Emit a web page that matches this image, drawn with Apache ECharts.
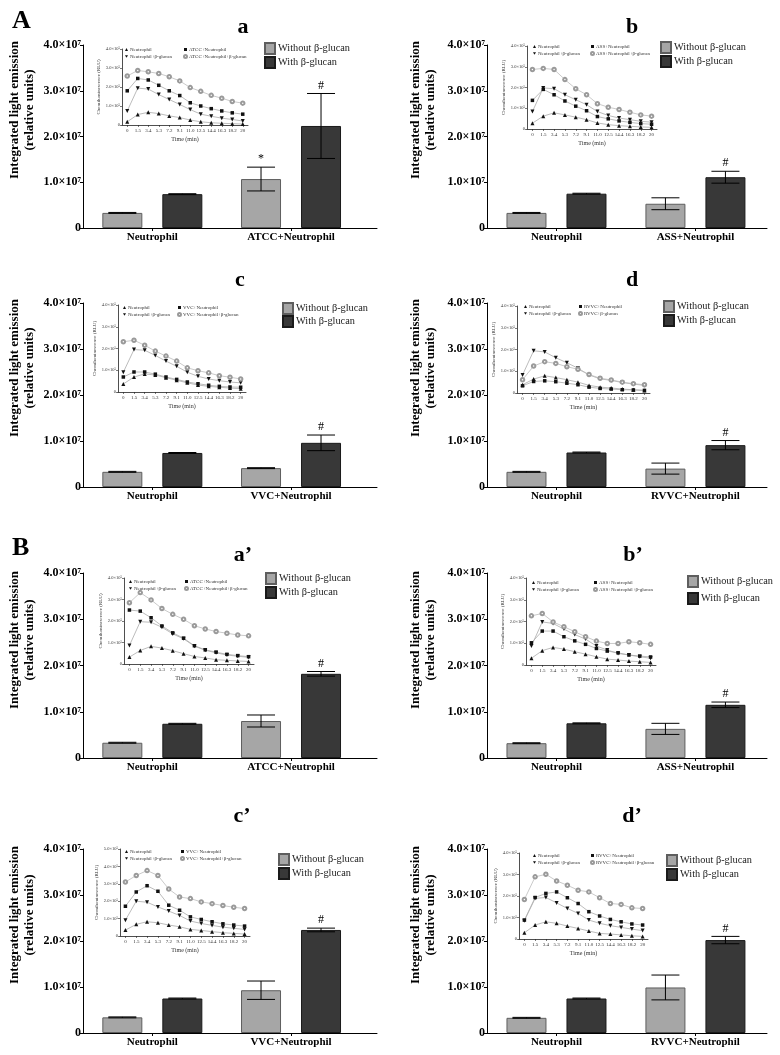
<!DOCTYPE html>
<html><head><meta charset="utf-8">
<script src="https://cdn.jsdelivr.net/npm/echarts@6/dist/echarts.min.js"></script>
<style>html,body{margin:0;padding:0;background:#fff}#c{width:780px;height:1055px}</style>
</head><body><div id="c"></div>
<script>
// ===================== DATA =====================
const panelTitles = ['a', 'b', 'c', 'd', 'a\u2019', 'b\u2019', 'c\u2019', 'd\u2019'];
const strains = ['ATCC', 'ASS', 'VVC', 'RVVC', 'ATCC', 'ASS', 'VVC', 'RVVC'];
const barLegend = ['Without \u03b2-glucan', 'With \u03b2-glucan'];
const timeLabels = ['0', '1.5', '3.4', '5.3', '7.2', '9.1', '11.0', '12.5', '14.4', '16.3', '18.2', '20'];

// Integrated light emission (units of 10^7), [Neutrophil, strain+Neutrophil]
const withoutGlucan = [[0.33, 1.07], [0.33, 0.53], [0.33, 0.41], [0.33, 0.40], [0.33, 0.80], [0.32, 0.63], [0.34, 0.93], [0.33, 0.99]];
const withoutErr    = [[0.01, 0.26], [0.01, 0.13], [0.01, 0.01], [0.01, 0.12], [0.01, 0.13], [0.01, 0.12], [0.01, 0.20], [0.01, 0.27]];
const withGlucan    = [[0.74, 2.23], [0.75, 1.11], [0.74, 0.96], [0.75, 0.91], [0.74, 1.82], [0.75, 1.15], [0.75, 2.24], [0.75, 2.02]];
const withErr       = [[0.01, 0.71], [0.01, 0.13], [0.01, 0.17], [0.01, 0.10], [0.01, 0.05], [0.01, 0.06], [0.01, 0.04], [0.01, 0.08]];
const withoutMarks  = [['', '*'], ['', ''], ['', ''], ['', ''], ['', ''], ['', ''], ['', ''], ['', '']];
const withMarks     = [['', '#'], ['', '#'], ['', '#'], ['', '#'], ['', '#'], ['', '#'], ['', '#'], ['', '#']];

// Inset chemiluminescence kinetics (units of 10^5)
const insetMax = [4, 4, 4, 4, 4, 4, 5, 4];
const curveNeutrophil = [
  [0.17, 0.55, 0.67, 0.60, 0.48, 0.39, 0.26, 0.17, 0.12, 0.09, 0.07, 0.05],
  [0.28, 0.62, 0.78, 0.68, 0.57, 0.45, 0.29, 0.21, 0.16, 0.13, 0.10, 0.08],
  [0.37, 0.69, 0.83, 0.78, 0.66, 0.54, 0.42, 0.32, 0.26, 0.22, 0.18, 0.15],
  [0.38, 0.64, 0.79, 0.71, 0.61, 0.50, 0.35, 0.27, 0.23, 0.18, 0.15, 0.12],
  [0.32, 0.63, 0.82, 0.74, 0.62, 0.48, 0.35, 0.28, 0.20, 0.17, 0.14, 0.12],
  [0.31, 0.66, 0.81, 0.73, 0.61, 0.50, 0.38, 0.27, 0.23, 0.18, 0.15, 0.12],
  [0.34, 0.67, 0.82, 0.76, 0.63, 0.53, 0.38, 0.32, 0.25, 0.19, 0.15, 0.11],
  [0.29, 0.65, 0.80, 0.73, 0.60, 0.49, 0.37, 0.26, 0.23, 0.19, 0.15, 0.12]
];
const curveNeutrophilGlucan = [
  [0.74, 1.94, 1.89, 1.60, 1.34, 1.08, 0.81, 0.57, 0.46, 0.36, 0.29, 0.21],
  [0.84, 1.98, 1.94, 1.65, 1.41, 1.17, 0.84, 0.65, 0.53, 0.45, 0.37, 0.33],
  [0.91, 1.95, 1.92, 1.68, 1.42, 1.18, 0.91, 0.72, 0.60, 0.52, 0.46, 0.42],
  [0.83, 1.94, 1.89, 1.62, 1.39, 1.14, 0.83, 0.65, 0.58, 0.48, 0.41, 0.35],
  [0.86, 1.97, 1.94, 1.71, 1.40, 1.17, 0.83, 0.64, 0.52, 0.42, 0.36, 0.31],
  [0.87, 1.98, 1.91, 1.65, 1.40, 1.19, 0.87, 0.69, 0.53, 0.46, 0.38, 0.31],
  [0.91, 2.00, 1.94, 1.67, 1.43, 1.18, 0.86, 0.72, 0.61, 0.51, 0.44, 0.38],
  [0.85, 1.89, 1.93, 1.68, 1.42, 1.19, 0.88, 0.73, 0.62, 0.54, 0.46, 0.39]
];
const curveStrain = [
  [1.80, 2.45, 2.37, 2.09, 1.80, 1.55, 1.17, 1.00, 0.86, 0.74, 0.64, 0.57],
  [1.38, 1.91, 1.65, 1.35, 1.10, 0.88, 0.60, 0.49, 0.39, 0.32, 0.26, 0.23],
  [0.69, 0.92, 0.92, 0.82, 0.69, 0.58, 0.46, 0.38, 0.31, 0.26, 0.23, 0.22],
  [0.33, 0.53, 0.56, 0.52, 0.45, 0.38, 0.27, 0.21, 0.18, 0.15, 0.14, 0.12],
  [2.51, 2.46, 2.15, 1.77, 1.45, 1.20, 0.85, 0.66, 0.55, 0.45, 0.39, 0.34],
  [1.02, 1.56, 1.56, 1.30, 1.11, 0.95, 0.76, 0.64, 0.56, 0.46, 0.41, 0.37],
  [1.71, 2.53, 2.89, 2.57, 1.77, 1.48, 1.10, 0.95, 0.82, 0.70, 0.63, 0.57],
  [0.88, 1.93, 2.12, 2.19, 1.92, 1.65, 1.27, 1.07, 0.91, 0.80, 0.70, 0.65]
];
const curveStrainGlucan = [
  [2.58, 2.87, 2.80, 2.71, 2.54, 2.32, 1.97, 1.77, 1.56, 1.41, 1.24, 1.15],
  [2.87, 2.92, 2.87, 2.38, 1.94, 1.65, 1.22, 1.05, 0.94, 0.81, 0.68, 0.62],
  [2.31, 2.38, 2.15, 1.88, 1.65, 1.42, 1.11, 0.98, 0.88, 0.75, 0.68, 0.60],
  [0.61, 1.24, 1.44, 1.36, 1.21, 1.09, 0.85, 0.68, 0.60, 0.50, 0.43, 0.38],
  [2.85, 3.32, 2.98, 2.58, 2.31, 2.08, 1.78, 1.63, 1.51, 1.43, 1.35, 1.31],
  [2.26, 2.37, 1.98, 1.76, 1.53, 1.30, 1.10, 0.99, 0.99, 1.07, 1.02, 0.95],
  [3.10, 3.48, 3.76, 3.48, 2.70, 2.24, 2.15, 1.96, 1.86, 1.75, 1.65, 1.58],
  [1.84, 2.89, 3.01, 2.70, 2.50, 2.27, 2.19, 1.92, 1.65, 1.61, 1.45, 1.42]
];
const strainGlucanNames = ['ATCC+Neutrophil+\u03b2-glucan', 'ASS+Neutrophil+\u03b2-glucan', 'VVC+Neutrophil+\u03b2-glucan', 'RVVC+\u03b2-glucan',
  'ATCC+Neutrophil+\u03b2-glucan', 'ASS+Neutrophil+\u03b2-glucan', 'VVC+Neutrophil+\u03b2-glucan', 'RVVC+Neutrophil+\u03b2-glucan'];

// ===================== LAYOUT =====================
const SERIF = '"Liberation Serif", "Times New Roman", serif';
const mainGrids = [
  {left: 83, top: 45, width: 294, height: 183}, {left: 487, top: 45, width: 280, height: 183},
  {left: 83, top: 303, width: 294, height: 184}, {left: 487, top: 303, width: 280, height: 184},
  {left: 83, top: 573, width: 294, height: 185}, {left: 487, top: 573, width: 280, height: 185},
  {left: 83, top: 849, width: 294, height: 184}, {left: 487, top: 849, width: 280, height: 184}
];
const insetGrids = [
  {left: 122, top: 49, width: 126, height: 76}, {left: 527, top: 46, width: 130, height: 83},
  {left: 118, top: 305, width: 128, height: 87}, {left: 517, top: 306, width: 133, height: 87},
  {left: 124, top: 578, width: 130, height: 86}, {left: 526, top: 578, width: 130, height: 87},
  {left: 120, top: 849, width: 130, height: 87}, {left: 519, top: 853, width: 129, height: 86}
];
const mainLegendPos = [[264, 42, 1], [660, 41, 1], [282, 302, 0], [663, 300, 1], [265, 572, 1], [687, 575, 4], [278, 853, 1], [666, 854, 1]];
const insetLegendPos = [[125, 47, 183], [533, 44, 590], [123, 305, 177], [524, 304, 578], [129, 579, 184], [532, 580, 593], [125, 849, 180], [533, 853, 590]];
const titlePos = [[238, 11], [627, 11], [235, 264], [627, 264], [238, 539], [628, 539], [237, 800], [627, 800]];
const yTitleCenters = [[22, 110], [423, 110], [22, 368], [423, 368], [22, 640], [423, 640], [22, 915], [423, 915]];
const BAR_OFFSET = 30; // half of (barWidth + gap) for barWidth 40, barGap 50%
const GRAY = '#a6a6a6', DARK = '#383838';
const downTri = 'path://M0,0L10,0L5,9Z';

const option = {
  animation: false, backgroundColor: '#fff',
  title: [], grid: [], xAxis: [], yAxis: [], legend: [], series: [], graphic: []
};

option.title.push({text: 'A', left: 7, top: 3, textStyle: {fontFamily: SERIF, fontWeight: 'bold', fontSize: 26, color: '#000'}});
option.title.push({text: 'B', left: 7, top: 530, textStyle: {fontFamily: SERIF, fontWeight: 'bold', fontSize: 26, color: '#000'}});

function errRender(p, g) {
  const errs = g === 0 ? withoutErr[p] : withErr[p];
  const marks = g === 0 ? withoutMarks[p] : withMarks[p];
  return function (params, api) {
    const i = params.dataIndex;
    const xv = api.value(0), v = api.value(1), e = errs[i];
    const x = api.coord([xv, v])[0] + (g === 0 ? -BAR_OFFSET : BAR_OFFSET);
    const yTop = api.coord([xv, v + e])[1];
    const yBot = api.coord([xv, v - e])[1];
    const hw = 14;
    const st = {stroke: '#000', lineWidth: 1};
    const children = [
      {type: 'line', shape: {x1: x, y1: yTop, x2: x, y2: yBot}, style: st},
      {type: 'line', shape: {x1: x - hw, y1: yTop, x2: x + hw, y2: yTop}, style: st},
      {type: 'line', shape: {x1: x - hw, y1: yBot, x2: x + hw, y2: yBot}, style: st}
    ];
    if (marks[i]) {
      children.push({type: 'text', x: x, y: yTop - 2, style: {text: marks[i], align: 'center', verticalAlign: 'bottom', font: '12px ' + SERIF, fill: '#000'}});
    }
    return {type: 'group', children: children};
  };
}

for (let p = 0; p < 8; p++) {
  const col = p % 2;
  const cats = ['Neutrophil', strains[p] + '+Neutrophil'];
  const mg = mainGrids[p], ig = insetGrids[p];
  const xMax = col === 0 ? 2.12 : 2.015;
  const mx = 2 * p, ix = 2 * p + 1;

  option.title.push({text: panelTitles[p], left: titlePos[p][0], top: titlePos[p][1], textAlign: 'center',
    textStyle: {fontFamily: SERIF, fontWeight: 'bold', fontSize: 22, color: '#000'}});

  option.grid.push(Object.assign({containLabel: false}, mg));
  option.grid.push(Object.assign({containLabel: false}, ig));

  option.xAxis.push({
    gridIndex: mx, type: 'value', min: 0, max: xMax, interval: 0.5,
    axisLine: {show: true, lineStyle: {color: '#000', width: 1}},
    axisTick: {show: true, length: 3, customValues: [0.5, 1.5], lineStyle: {color: '#000'}},
    axisLabel: {show: true, customValues: [0.5, 1.5], margin: 4,
      formatter: v => (Math.abs(v - 0.5) < 1e-6 ? cats[0] : Math.abs(v - 1.5) < 1e-6 ? cats[1] : ''),
      fontFamily: SERIF, fontWeight: 'bold', fontSize: 11, color: '#000'},
    splitLine: {show: false}
  });
  option.xAxis.push({
    gridIndex: ix, type: 'category', data: timeLabels, boundaryGap: true,
    axisLine: {show: true, lineStyle: {color: '#222', width: 0.8}},
    axisTick: {show: true, alignWithLabel: true, length: 2, lineStyle: {color: '#222', width: 0.6}},
    axisLabel: {interval: 0, margin: 3, fontFamily: SERIF, fontSize: 5, color: '#333'},
    name: 'Time (min)', nameLocation: 'middle', nameGap: 11,
    nameTextStyle: {fontFamily: SERIF, fontSize: 6, color: '#333'},
    splitLine: {show: false}
  });
  option.yAxis.push({
    gridIndex: mx, type: 'value', min: 0, max: 4, interval: 1,
    axisLine: {show: true, lineStyle: {color: '#000', width: 1}},
    axisTick: {show: true, length: 3, lineStyle: {color: '#000'}},
    axisLabel: {margin: 2, formatter: v => (v === 0 ? '0' : v.toFixed(1) + '\u00d710\u2077'),
      fontFamily: SERIF, fontWeight: 'bold', fontSize: 12, color: '#000'},
    splitLine: {show: false}
  });
  option.yAxis.push({
    gridIndex: ix, type: 'value', min: 0, max: insetMax[p], interval: 1,
    axisLine: {show: true, lineStyle: {color: '#222', width: 0.8}},
    axisTick: {show: true, length: 2, lineStyle: {color: '#222', width: 0.6}},
    axisLabel: {margin: 2, formatter: v => (v === 0 ? '0' : v.toFixed(1) + '\u00d710\u2075'),
      fontFamily: SERIF, fontSize: 4.5, color: '#333'},
    name: 'Chemiluminescence (RLU)', nameLocation: 'middle', nameGap: 21,
    nameTextStyle: {fontFamily: SERIF, fontSize: 5, color: '#333'},
    splitLine: {show: false}
  });

  option.series.push({
    type: 'bar', name: barLegend[0], xAxisIndex: mx, yAxisIndex: mx, barWidth: 40, barGap: '50%',
    itemStyle: {color: GRAY, borderColor: '#5e5e5e', borderWidth: 1},
    data: withoutGlucan[p].map((v, i) => [i + 0.5, v]), silent: true
  });
  option.series.push({
    type: 'bar', name: barLegend[1], xAxisIndex: mx, yAxisIndex: mx, barWidth: 40, barGap: '50%',
    itemStyle: {color: DARK, borderColor: '#1a1a1a', borderWidth: 1},
    data: withGlucan[p].map((v, i) => [i + 0.5, v]), silent: true
  });
  option.series.push({
    type: 'custom', xAxisIndex: mx, yAxisIndex: mx, renderItem: errRender(p, 0), z: 5, silent: true,
    encode: {x: 0, y: 1}, data: withoutGlucan[p].map((v, i) => [i + 0.5, v])
  });
  option.series.push({
    type: 'custom', xAxisIndex: mx, yAxisIndex: mx, renderItem: errRender(p, 1), z: 5, silent: true,
    encode: {x: 0, y: 1}, data: withGlucan[p].map((v, i) => [i + 0.5, v])
  });

  const lineBase = {type: 'line', xAxisIndex: ix, yAxisIndex: ix, silent: true, z: 6,
    lineStyle: {color: '#ababab', width: 0.8}};
  option.series.push(Object.assign({}, lineBase, {name: 'Neutrophil', data: curveNeutrophil[p],
    symbol: 'triangle', symbolSize: 4, itemStyle: {color: '#111'}}));
  option.series.push(Object.assign({}, lineBase, {name: 'Neutrophil+\u03b2-glucan', data: curveNeutrophilGlucan[p],
    symbol: 'triangle', symbolRotate: 180, symbolSize: 4, itemStyle: {color: '#111'}}));
  option.series.push(Object.assign({}, lineBase, {name: strains[p] + '+Neutrophil', data: curveStrain[p],
    symbol: 'rect', symbolSize: 3.5, itemStyle: {color: '#111'}}));
  option.series.push(Object.assign({}, lineBase, {name: strainGlucanNames[p], data: curveStrainGlucan[p],
    symbol: 'emptyCircle', symbolSize: 3.5, itemStyle: {color: '#9a9a9a', borderWidth: 0.8},
    lineStyle: {color: '#bdbdbd', width: 0.8}}));

  option.legend.push({
    orient: 'vertical', left: mainLegendPos[p][0], top: mainLegendPos[p][1], padding: 0,
    itemWidth: 10, itemHeight: 11, itemGap: mainLegendPos[p][2], selectedMode: false,
    textStyle: {fontFamily: SERIF, fontSize: 10.3, color: '#222', padding: [0, 0, 0, -2]},
    data: [{name: barLegend[0], icon: 'rect'}, {name: barLegend[1], icon: 'rect'}]
  });
  const il = insetLegendPos[p];
  const legText = {fontFamily: SERIF, fontSize: 5, lineHeight: 5, color: '#333', padding: [0, 0, 0, -3]};
  option.legend.push({
    orient: 'vertical', left: il[0], top: il[1], padding: 0, itemWidth: 3, itemHeight: 3, itemGap: 2,
    selectedMode: false, textStyle: legText,
    data: [{name: 'Neutrophil', icon: 'triangle'}, {name: 'Neutrophil+\u03b2-glucan', icon: downTri}]
  });
  option.legend.push({
    orient: 'vertical', left: il[2], top: il[1], padding: 0, itemWidth: 3, itemHeight: 3, itemGap: 2,
    selectedMode: false, textStyle: legText,
    data: [{name: strains[p] + '+Neutrophil', icon: 'rect'}, {name: strainGlucanNames[p], icon: 'emptyCircle'}]
  });

  option.graphic.push({
    type: 'text', x: yTitleCenters[p][0], y: yTitleCenters[p][1], rotation: Math.PI / 2,
    style: {text: 'Integrated light emission\n(relative units)', align: 'center', verticalAlign: 'middle',
      font: 'bold 13px ' + SERIF, fill: '#000', lineHeight: 15}
  });
}

const chart = echarts.init(document.getElementById('c'), null, {renderer: 'canvas'});
chart.setOption(option);
</script>
</body></html>
